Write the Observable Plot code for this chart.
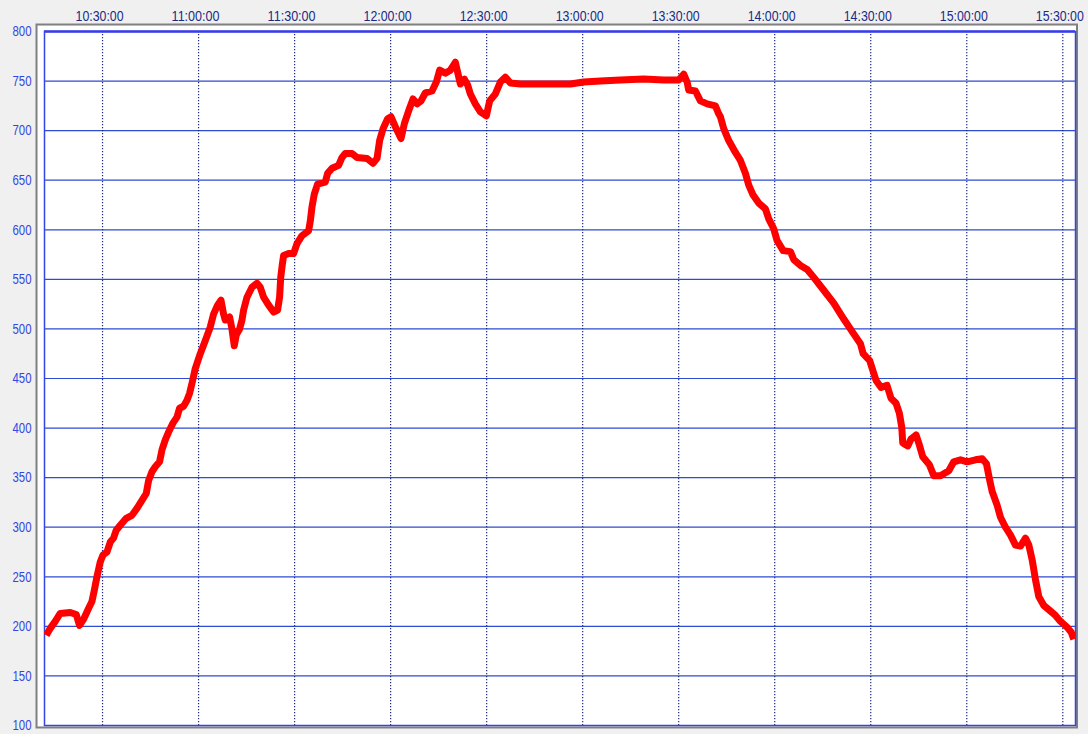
<!DOCTYPE html>
<html>
<head>
<meta charset="utf-8">
<script src="https://cdn.jsdelivr.net/npm/d3@7"></script>
<script src="https://cdn.jsdelivr.net/npm/@observablehq/plot@0.6"></script>
<style>
  html, body { margin: 0; padding: 0; background: #f0f0f0; }
  #chart svg { display: block; }
</style>
</head>
<body>
<div id="chart"></div>
<script>
const times = [
  "10:12:25","10:13:40","10:15:13","10:16:47","10:19:55","10:21:47","10:22:49","10:24:04","10:25:37","10:26:41",
  "10:27:24","10:28:15","10:29:17","10:30:08","10:31:23","10:32:25","10:33:26","10:34:17","10:35:32","10:37:24",
  "10:39:11","10:40:45","10:42:19","10:43:39","10:44:23","10:45:26","10:46:28","10:47:49","10:48:34","10:49:36",
  "10:50:38","10:52:00","10:53:15","10:54:04","10:55:19","10:56:23","10:57:11","10:57:56","10:58:58","11:00:32",
  "11:02:05","11:03:40","11:04:41","11:05:56","11:07:00","11:07:49","11:08:20","11:09:41","11:10:26","11:11:09",
  "11:11:47","11:12:49","11:13:34","11:14:04","11:15:08","11:16:41","11:18:15","11:19:17","11:20:19","11:21:53",
  "11:23:26","11:24:41","11:25:19","11:25:40","11:26:10","11:26:34","11:28:08","11:29:41","11:30:45","11:32:19",
  "11:34:23","11:34:55","11:35:26","11:36:09","11:37:11","11:39:35","11:40:19","11:41:41","11:43:45","11:44:49",
  "11:45:50","11:47:56","11:49:30","11:52:38","11:54:30","11:55:45","11:56:34","11:57:38","11:59:04","12:00:08",
  "12:01:28","12:03:15","12:04:17","12:05:38","12:07:00","12:08:15","12:09:30","12:10:50","12:12:56","12:14:17",
  "12:15:19","12:17:05","12:18:40","12:20:13","12:20:56","12:21:47","12:23:02","12:24:04","12:24:55","12:26:28",
  "12:28:02","12:29:55","12:30:56","12:32:43","12:34:17","12:35:50","12:37:25","12:40:32","12:50:50","12:56:10",
  "13:00:19","13:05:32","13:11:47","13:19:04","13:25:19","13:30:00","13:31:34","13:32:38","13:33:08","13:35:13",
  "13:36:47","13:38:53","13:41:28","13:42:30","13:43:02","13:44:04","13:45:38","13:47:43","13:49:17","13:50:50",
  "13:51:53","13:53:15","13:55:00","13:57:05","13:58:08","13:59:41","14:00:45","14:02:38","14:04:55","14:05:56",
  "14:08:02","14:10:08","14:12:11","14:15:19","14:18:26","14:21:34","14:24:41","14:26:47","14:27:38","14:29:40",
  "14:31:40","14:33:13","14:35:05","14:36:20","14:37:55","14:38:56","14:39:41","14:40:00","14:41:34","14:42:35",
  "14:44:10","14:45:11","14:46:15","14:48:19","14:49:41","14:51:47","14:54:23","14:55:56","14:58:02","15:00:08",
  "15:02:43","15:04:49","15:06:09","15:07:11","15:07:56","15:09:30","15:10:32","15:12:05","15:13:40","15:15:13",
  "15:16:47","15:18:20","15:19:23","15:20:26","15:21:28","15:22:30","15:24:04","15:25:56","15:27:43","15:29:17",
  "15:31:23","15:32:38","15:33:26"
];
const values = [
  191,198,205,213,214,212,201,207,218,225,
  236,250,265,272,275,285,289,297,302,309,
  312,319,327,334,347,356,361,366,378,388,
  396,405,411,420,422,428,435,445,460,475,
  488,502,515,524,529,515,509,512,500,483,
  494,500,509,519,532,542,546,542,532,524,
  517,519,532,552,565,574,576,576,586,594,
  599,609,623,636,646,648,657,662,665,673,
  677,677,673,672,667,672,690,702,712,714,
  704,692,707,720,732,727,730,738,740,749,
  761,758,761,769,759,747,752,746,737,727,
  719,715,730,737,749,754,748,747,747,747,
  749,750,751,752,751,751,757,749,741,740,
  730,727,725,717,714,702,690,678,670,657,
  645,635,627,621,611,601,589,579,578,570,
  564,560,552,539,526,510,495,485,475,468,
  448,441,443,430,425,415,401,385,382,389,
  393,383,371,363,352,352,357,366,368,366,
  368,369,364,347,336,322,310,300,292,282,
  281,289,282,267,247,230,221,216,211,205,
  199,194,187
];
const xTickLabels = ["10:30:00","11:00:00","11:30:00","12:00:00","12:30:00","13:00:00","13:30:00","14:00:00","14:30:00","15:00:00","15:30:00"];
const yTicks = [100,150,200,250,300,350,400,450,500,550,600,650,700,750,800];
const xDomainLabels = ["10:11:52","15:33:58"];

const parse = d3.utcParse("%Y-%m-%d %H:%M:%S");
const toDate = s => parse("2020-01-01 " + s);
const data = times.map((t, i) => ({time: toDate(t), value: values[i]}));
const xTicks = xTickLabels.map(toDate);

const font = '"Liberation Sans", Arial, sans-serif';

const chart = Plot.plot({
  width: 1088,
  height: 734,
  marginLeft: 44,
  marginRight: 13,
  marginTop: 31,
  marginBottom: 9,
  style: {background: "#f0f0f0", fontFamily: font, fontSize: "15px"},
  x: {type: "utc", domain: xDomainLabels.map(toDate)},
  y: {domain: [100, 800]},
  marks: [
    Plot.frame({fill: "white", insetLeft: -7, insetTop: -6, insetRight: -1, insetBottom: -1}),
    Plot.frame({stroke: "#808080", strokeWidth: 2, insetLeft: -8, insetTop: -7, insetRight: -1.5, insetBottom: -2}),
    Plot.ruleY(yTicks, {stroke: "#2f4bd0", strokeWidth: 1.2}),
    Plot.ruleX(xTicks, {stroke: "#1b2a86", strokeWidth: 1.2, strokeDasharray: "1.2,1.8"}),
    Plot.frame({stroke: "#3446e0", strokeWidth: 1.5}),
    Plot.ruleY([800], {stroke: "#3a3ee8", strokeWidth: 2.5}),
    Plot.line(data, {x: "time", y: "value", stroke: "#ff0000", strokeWidth: 7, strokeLinejoin: "round", strokeLinecap: "butt", clip: true}),
    Plot.axisY(yTicks, {tickSize: 0, tickPadding: 13, label: null, fill: "#3446e0", fontSize: 15}),
    Plot.axisX(xTicks, {anchor: "top", tickSize: 0, tickPadding: 11, dx: -3, label: null, tickFormat: d3.utcFormat("%H:%M:%S"), fill: "#1b2a86", fontSize: 15})
  ]
});
// condense the tick labels to the narrow face of the original
d3.select(chart).selectAll('g[aria-label="y-axis tick label"] text')
  .attr("textLength", 19).attr("lengthAdjust", "spacingAndGlyphs");
d3.select(chart).selectAll('g[aria-label="x-axis tick label"] text')
  .attr("textLength", 48).attr("lengthAdjust", "spacingAndGlyphs");
document.getElementById("chart").appendChild(chart);
</script>
</body>
</html>
